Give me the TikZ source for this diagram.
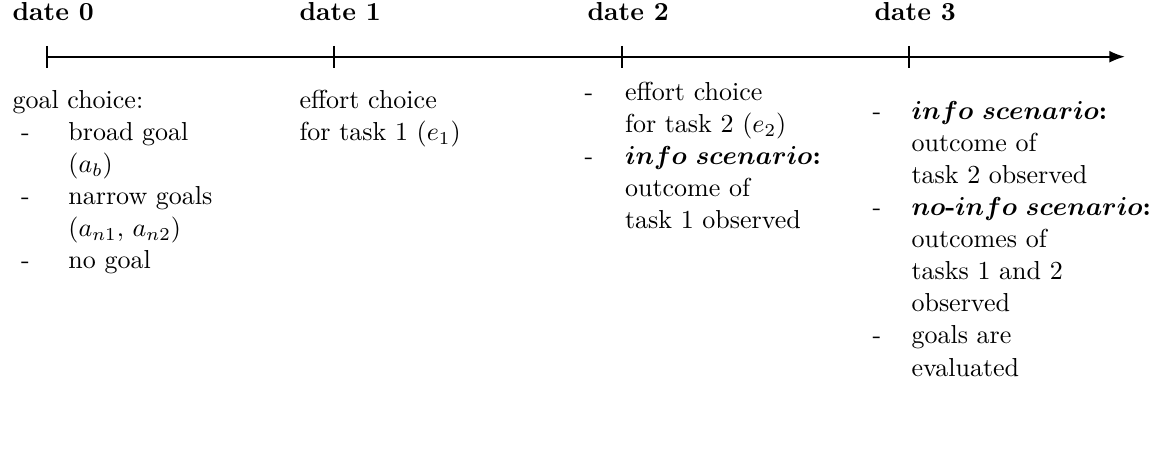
\documentclass[tikz,border=0pt]{standalone}
\usetikzlibrary{arrows.meta}
\newcommand\itm[1]{\makebox[#1][l]{-}}
\newcommand\bmi[1]{{\boldmath$#1$}}
\tikzset{
  datelbl/.style={anchor=base west, inner sep=0pt, font=\bfseries},
  col/.style={anchor=base west, inner sep=0pt},
  axis/.style={line width=0.8pt},
  tickmark/.style={line width=0.8pt}
}
\begin{document}
\begin{tikzpicture}[x=0.3846pt, y=-0.3846pt]
\useasboundingbox (0,0) rectangle (1153,459);
% dates
\node[datelbl] (d0) at (12,21) {date 0};
\node[datelbl] (d1) at (299,21) {date 1};
\node[datelbl] (d2) at (587,21) {date 2};
\node[datelbl] (d3) at (874,21) {date 3};
% axis
\coordinate (t0) at (47,56.7);
\coordinate (t1) at (334,56.7);
\coordinate (t2) at (622,56.7);
\coordinate (t3) at (909,56.7);
\coordinate (tend) at (1125,56.7);
\draw[axis, -{Latex[length=6pt,width=4.6pt]}] (t0) -- (tend);
\foreach \t in {t0,t1,t2,t3}
  \draw[tickmark] ([yshift=4.2pt]\t) -- ([yshift=-4.2pt]\t);
% column 0
\node[col] (c0) at (12,108) {\renewcommand\arraystretch{1.03}%
\begin{tabular}[t]{@{}l@{}l@{}}
\multicolumn{2}{@{}l@{}}{goal choice:}\\
\hspace*{3.3pt}\itm{18.2pt} & broad goal\\
 & $(a_b)$\\
\hspace*{3.3pt}\itm{18.2pt} & narrow goals\\
 & $(a_{n1},\,a_{n2})$\\
\hspace*{3.3pt}\itm{18.2pt} & no goal
\end{tabular}};
% column 1
\node[col] (c1) at (299,108) {\renewcommand\arraystretch{1.03}%
\begin{tabular}[t]{@{}l@{}}
effort choice\\
for task 1 $(e_1)$
\end{tabular}};
% column 2
\node[col] (c2) at (584,100) {\renewcommand\arraystretch{1.03}%
\begin{tabular}[t]{@{}l@{}l@{}}
\itm{15.6pt} & effort choice\\
 & for task 2 $(e_2)$\\
\itm{15.6pt} & \bmi{info\ scenario}\textbf{:}\\
 & outcome of\\
 & task 1 observed
\end{tabular}};
% column 3
\node[col] (c3) at (872,119) {\renewcommand\arraystretch{1.03}%
\begin{tabular}[t]{@{}l@{}l@{}}
\itm{15pt} & \bmi{info\ scenario}\textbf{:}\\
 & outcome of\\
 & task 2 observed\\
\itm{15pt} & \bmi{no}\textbf{-}\bmi{info\ scenario}\textbf{:}\\
 & outcomes of\\
 & tasks 1 and 2\\
 & observed\\
\itm{15pt} & goals are\\
 & evaluated
\end{tabular}};
\end{tikzpicture}
\end{document}
